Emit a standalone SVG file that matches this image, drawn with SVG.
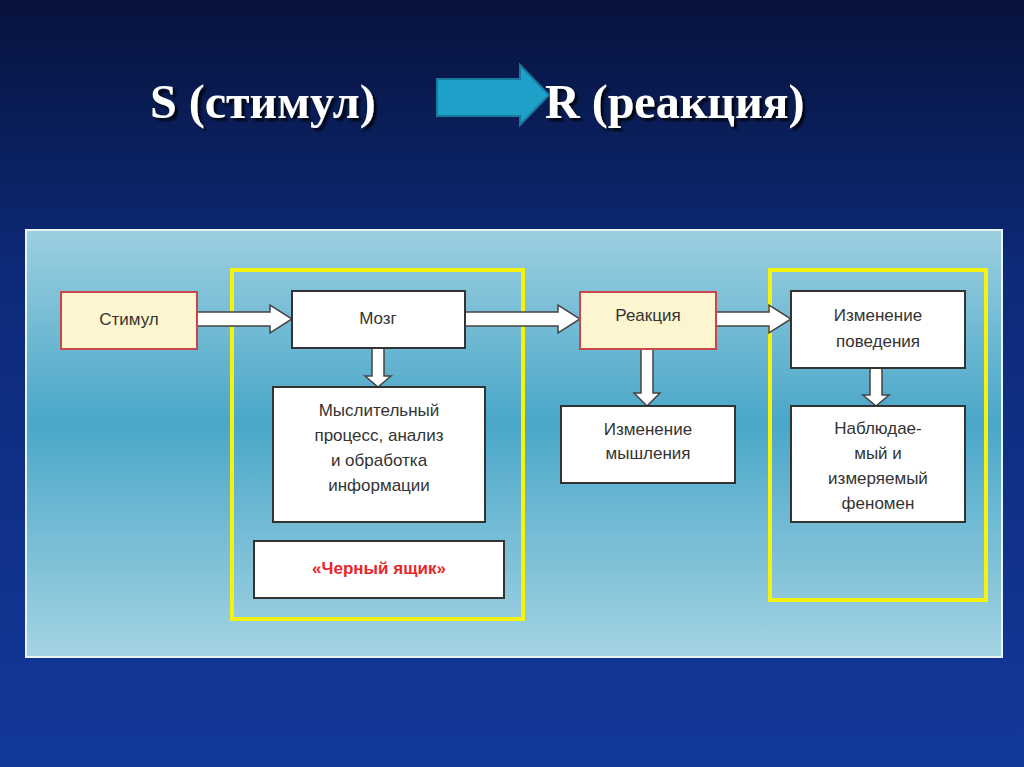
<svg xmlns="http://www.w3.org/2000/svg" width="1024" height="767" viewBox="0 0 1024 767">
<defs>
<linearGradient id="bg" x1="0" y1="0" x2="0" y2="1"><stop offset="0" stop-color="#07123c"/><stop offset="0.35" stop-color="#0d2a78"/><stop offset="1" stop-color="#12389a"/></linearGradient>
<linearGradient id="pn" x1="0" y1="0" x2="0" y2="1"><stop offset="0" stop-color="#9ccfe0"/><stop offset="0.45" stop-color="#4aa7c8"/><stop offset="1" stop-color="#a4d3e3"/></linearGradient>
<filter id="sh"><feDropShadow dx="3" dy="3" stdDeviation="1" flood-color="#000" flood-opacity="0.8"/></filter>
</defs>
<style>
.t{font-family:"Liberation Sans",Arial,sans-serif;font-size:17px;fill:#333;text-anchor:middle}
.b{fill:#fff;stroke:#333;stroke-width:2}
.c{fill:#fdf5cf;stroke:#c8474a;stroke-width:2}
.y{fill:none;stroke:#f4f20e;stroke-width:4}
.a{fill:#fff;stroke:#444;stroke-width:1.5}
</style>
<rect width="1024" height="767" fill="url(#bg)"/>
<g id="title" font-family="'Liberation Serif','Times New Roman',serif" font-size="48" font-weight="bold" fill="#fff" filter="url(#sh)">
<text x="150" y="118">S (стимул)</text>
<text x="545" y="118">R (реакция)</text>
</g>
<polygon points="437,79 520,79 520,65 549,95 520,125 520,116 437,116" fill="#1fa0c8" stroke="#157a9e" stroke-width="2"/>
<rect x="26" y="230" width="976" height="427" fill="url(#pn)" stroke="#e8f4f8" stroke-width="2"/>
<g id="frames"><rect class="y" x="232" y="270" width="291" height="349"/><rect class="y" x="770" y="270" width="216" height="330"/></g>
<g id="connectors">
<polygon class="a" points="197,312 270,312 270,305 292,319 270,333 270,326 197,326"/>
<polygon class="a" points="465,312 558,312 558,305 580,319 558,333 558,326 465,326"/>
<polygon class="a" points="716,312 769,312 769,305 791,319 769,333 769,326 716,326"/>
<polygon class="a" points="372,348 384,348 384,376 391,376 378,387 365,376 372,376"/>
<polygon class="a" points="641,349 653,349 653,393 660,393 647,406 634,393 641,393"/>
<polygon class="a" points="870,368 882,368 882,395 889,395 876,406 863,395 870,395"/>
</g>
<g id="n1"><rect class="c" x="61" y="292" width="136" height="57"/><text class="t" x="129" y="325">Стимул</text></g>
<g id="n2"><rect class="b" x="292" y="291" width="173" height="57"/><text class="t" x="378" y="324">Мозг</text></g>
<g id="n3"><rect class="b" x="273" y="387" width="212" height="135"/><text class="t" x="379" y="416">Мыслительный</text><text class="t" x="379" y="441">процесс, анализ</text><text class="t" x="379" y="466">и обработка</text><text class="t" x="379" y="491">информации</text></g>
<g id="n4"><rect class="b" x="254" y="541" width="250" height="57"/><text class="t" x="379" y="574" fill="#e8262a" style="fill:#e8262a;font-weight:bold">«Черный ящик»</text></g>
<g id="n5"><rect class="c" x="580" y="292" width="136" height="57"/><text class="t" x="648" y="321">Реакция</text></g>
<g id="n6"><rect class="b" x="561" y="406" width="174" height="77"/><text class="t" x="648" y="435">Изменение</text><text class="t" x="648" y="459">мышления</text></g>
<g id="n7"><rect class="b" x="791" y="291" width="174" height="77"/><text class="t" x="878" y="321">Изменение</text><text class="t" x="878" y="347">поведения</text></g>
<g id="n8"><rect class="b" x="791" y="406" width="174" height="116"/><text class="t" x="878" y="434">Наблюдае-</text><text class="t" x="878" y="459">мый и</text><text class="t" x="878" y="484">измеряемый</text><text class="t" x="878" y="509">феномен</text></g>
</svg>
